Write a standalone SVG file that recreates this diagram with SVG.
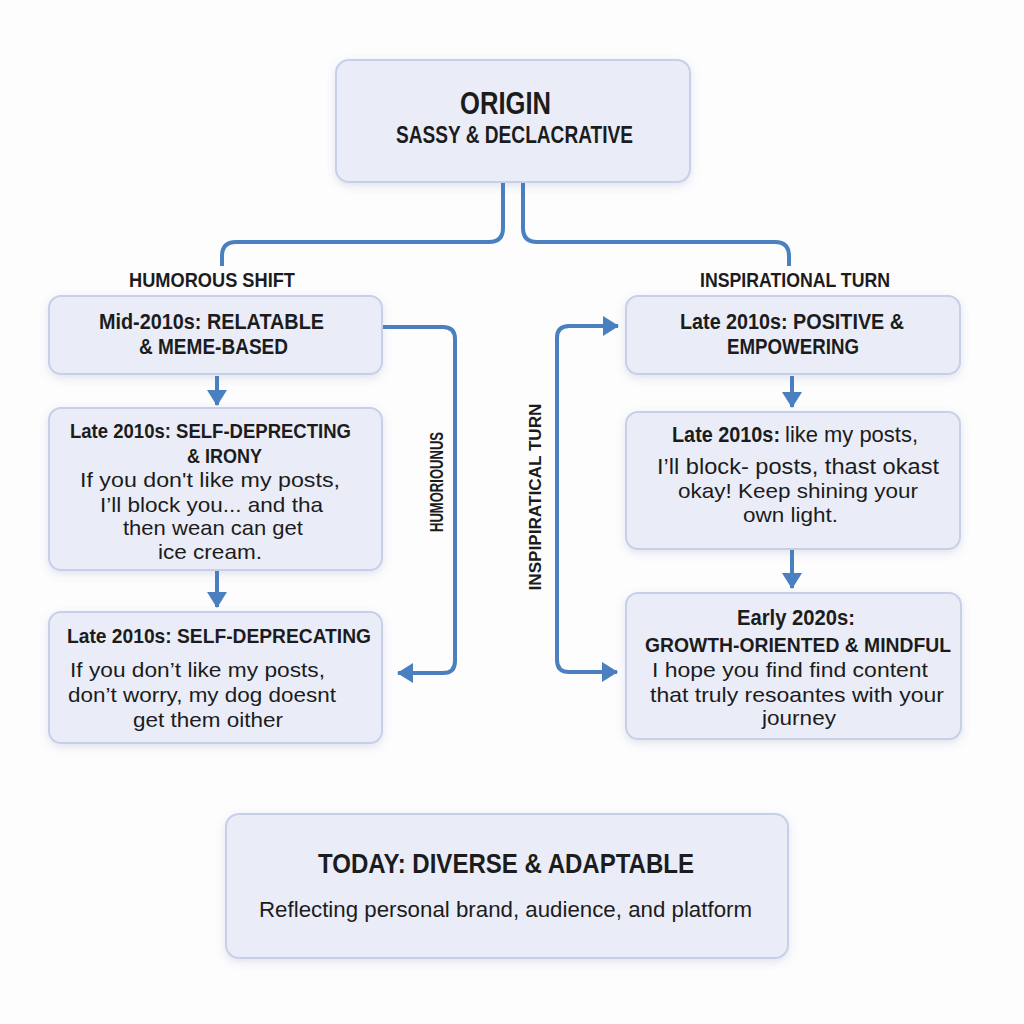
<svg xmlns="http://www.w3.org/2000/svg" width="1024" height="1024" viewBox="0 0 1024 1024">
<defs>
<filter id="sh" x="-10%" y="-10%" width="120%" height="130%">
<feDropShadow dx="0" dy="3" stdDeviation="4" flood-color="#6070a0" flood-opacity="0.18"/>
</filter>
<marker id="ah" viewBox="0 0 16 20" refX="15" refY="10" markerWidth="16" markerHeight="20" markerUnits="userSpaceOnUse" orient="auto-start-reverse">
<path d="M0,0 L16,10 L0,20 z" fill="#4a80c0"/>
</marker>
</defs>
<style>
.box{fill:#eaedf8;stroke:#c7cfe9;stroke-width:2;filter:url(#sh)}
.t{font-family:"Liberation Sans",Arial,sans-serif;fill:#1c1c1c;text-anchor:middle}
.b{font-weight:bold}
.s{text-anchor:start}
.c{fill:none;stroke:#4a80c0;stroke-width:4;stroke-linecap:butt;stroke-linejoin:round}
.ca{marker-end:url(#ah)}
</style>
<rect width="1024" height="1024" fill="#fdfdfe"/>

<g id="connectors">
<path class="c" d="M503,183 V228 Q503,242 489,242 H236 Q222,242 222,256 V266"/>
<path class="c" d="M523,183 V228 Q523,242 537,242 H775 Q789,242 789,256 V266"/>
<path class="c ca" d="M217,376 V405"/>
<path class="c ca" d="M217,571 V607"/>
<path class="c ca" d="M792,376 V407"/>
<path class="c ca" d="M792,550 V588"/>
<path class="c ca" d="M383,327 H443 Q455,327 455,339 V661 Q455,673 443,673 H398"/>
<path class="c ca" style="marker-start:url(#ah)" d="M618,326 H569 Q557,326 557,338 V660 Q557,672 569,672 H617"/>
</g>

<g id="origin">
<rect class="box" x="336" y="60" width="354" height="122" rx="13"/>
<text class="t b" x="505.5" y="114" font-size="31" textLength="91" lengthAdjust="spacingAndGlyphs">ORIGIN</text>
<text class="t b" x="514.5" y="143" font-size="23" textLength="237" lengthAdjust="spacingAndGlyphs">SASSY &amp; DECLACRATIVE</text>
</g>

<g id="label-humorous-shift">
<text class="t b" x="212" y="287" font-size="21" textLength="166" lengthAdjust="spacingAndGlyphs">HUMOROUS SHIFT</text>
</g>
<g id="label-inspirational-turn">
<text class="t b" x="795" y="287" font-size="21" textLength="190" lengthAdjust="spacingAndGlyphs">INSPIRATIONAL TURN</text>
</g>

<g id="mid-2010s">
<rect class="box" x="49" y="296" width="333" height="78" rx="12"/>
<text class="t b" x="211.5" y="329" font-size="22" textLength="225" lengthAdjust="spacingAndGlyphs">Mid-2010s: RELATABLE</text>
<text class="t b" x="213.5" y="354" font-size="22" textLength="149" lengthAdjust="spacingAndGlyphs">&amp; MEME-BASED</text>
</g>

<g id="late-2010s-irony">
<rect class="box" x="49" y="408" width="333" height="162" rx="12"/>
<text class="t b" x="210.5" y="438" font-size="21" textLength="281" lengthAdjust="spacingAndGlyphs">Late 2010s: SELF-DEPRECTING</text>
<text class="t b" x="224.5" y="463" font-size="20" textLength="75" lengthAdjust="spacingAndGlyphs">&amp; IRONY</text>
<text class="t" x="210" y="487" font-size="21" textLength="260" lengthAdjust="spacingAndGlyphs">If you don't like my posts,</text>
<text class="t" x="211.5" y="512" font-size="21" textLength="223" lengthAdjust="spacingAndGlyphs">I’ll block you... and tha</text>
<text class="t" x="213" y="535" font-size="21" textLength="180" lengthAdjust="spacingAndGlyphs">then wean can get</text>
<text class="t" x="210" y="559" font-size="21" textLength="104" lengthAdjust="spacingAndGlyphs">ice cream.</text>
</g>

<g id="late-2010s-self-deprecating">
<rect class="box" x="49" y="612" width="333" height="131" rx="12"/>
<text class="t b" x="219" y="643" font-size="21" textLength="304" lengthAdjust="spacingAndGlyphs">Late 2010s: SELF-DEPRECATING</text>
<text class="t" x="197.5" y="677" font-size="21" textLength="255" lengthAdjust="spacingAndGlyphs">If you don’t like my posts,</text>
<text class="t" x="202" y="702" font-size="21" textLength="268" lengthAdjust="spacingAndGlyphs">don’t worry, my dog doesnt</text>
<text class="t" x="208" y="727" font-size="21" textLength="150" lengthAdjust="spacingAndGlyphs">get them oither</text>
</g>

<g id="label-humorioun">
<text class="t b" transform="translate(437,482) rotate(-90)" x="0" y="6" font-size="18" textLength="100" lengthAdjust="spacingAndGlyphs">HUMORIOUNUS</text>
</g>
<g id="label-inspipiratical">
<text class="t b" transform="translate(535,497) rotate(-90)" x="0" y="6" font-size="17" textLength="187" lengthAdjust="spacingAndGlyphs">INSPIPIRATICAL  TURN</text>
</g>

<g id="late-2010s-positive">
<rect class="box" x="626" y="296" width="334" height="78" rx="12"/>
<text class="t b" x="792" y="329" font-size="22" textLength="224" lengthAdjust="spacingAndGlyphs">Late 2010s: POSITIVE &amp;</text>
<text class="t b" x="793" y="354" font-size="22" textLength="132" lengthAdjust="spacingAndGlyphs">EMPOWERING</text>
</g>

<g id="late-2010s-shining">
<rect class="box" x="626" y="412" width="334" height="137" rx="12"/>
<text class="t b s" x="672" y="442" font-size="22" textLength="108" lengthAdjust="spacingAndGlyphs">Late 2010s:</text>
<text class="t s" x="785" y="442" font-size="22" textLength="133" lengthAdjust="spacingAndGlyphs">like my posts,</text>
<text class="t" x="798" y="474" font-size="22" textLength="282" lengthAdjust="spacingAndGlyphs">I’ll block- posts, thast okast</text>
<text class="t" x="798" y="498" font-size="21" textLength="240" lengthAdjust="spacingAndGlyphs">okay! Keep shining your</text>
<text class="t" x="790.5" y="522" font-size="21" textLength="95" lengthAdjust="spacingAndGlyphs">own light.</text>
</g>

<g id="early-2020s">
<rect class="box" x="626" y="593" width="335" height="146" rx="12"/>
<text class="t b" x="796" y="625" font-size="22" textLength="118" lengthAdjust="spacingAndGlyphs">Early 2020s:</text>
<text class="t b" x="798" y="652" font-size="21" textLength="306" lengthAdjust="spacingAndGlyphs">GROWTH-ORIENTED &amp; MINDFUL</text>
<text class="t" x="790" y="677" font-size="21" textLength="276" lengthAdjust="spacingAndGlyphs">I hope you find find content</text>
<text class="t" x="797" y="702" font-size="21" textLength="294" lengthAdjust="spacingAndGlyphs">that truly resoantes with your</text>
<text class="t" x="799" y="725" font-size="21" textLength="74" lengthAdjust="spacingAndGlyphs">journey</text>
</g>

<g id="today">
<rect class="box" x="226" y="814" width="562" height="144" rx="13"/>
<text class="t b" x="506" y="873" font-size="28" textLength="376" lengthAdjust="spacingAndGlyphs">TODAY: DIVERSE &amp; ADAPTABLE</text>
<text class="t" x="505.5" y="917" font-size="22" textLength="493" lengthAdjust="spacingAndGlyphs">Reflecting personal brand, audience, and platform</text>
</g>
</svg>
